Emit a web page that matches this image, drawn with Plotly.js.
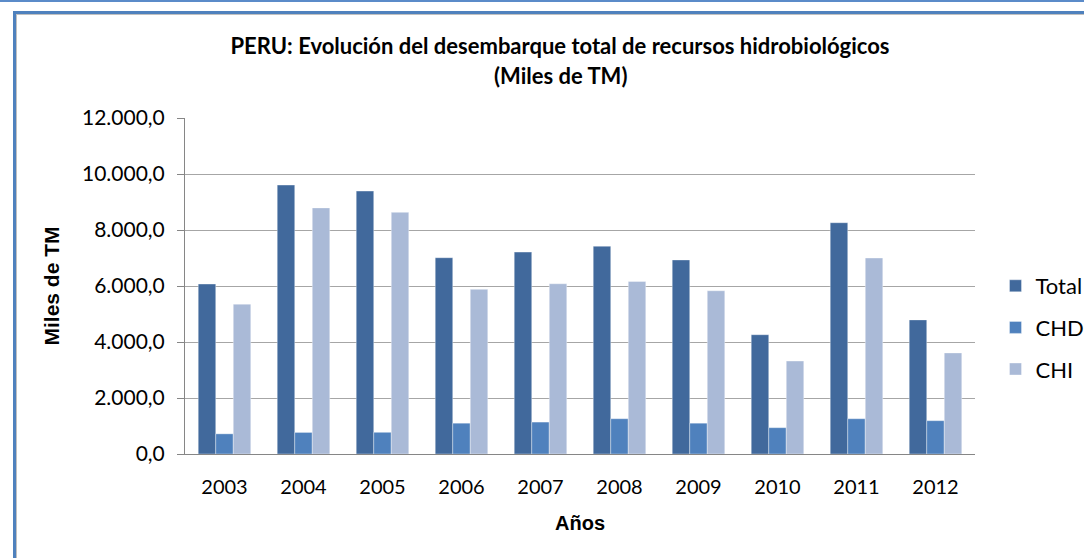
<!DOCTYPE html>
<html>
<head>
<meta charset="utf-8">
<script src="https://cdn.plot.ly/plotly-3.0.1.min.js"></script>
<style>
  html, body { margin: 0; padding: 0; background: #ffffff; width: 1084px; height: 558px; overflow: hidden; }
  #topline { position: absolute; left: 0; top: 0; width: 1084px; height: 2px; background: #5B8BC9; }
  #frame { position: absolute; left: 13px; top: 11px; width: 1071px; height: 547px; box-sizing: border-box;
           border-top: 3px solid #4F81BD; border-left: 3px solid #4F81BD; box-shadow: inset 1px 1px 0 #C0C0C0; }
  #chart { position: absolute; left: 16px; top: 14px; width: 1068px; height: 544px; }
</style>
</head>
<body>
<div id="topline"></div>
<div id="frame"></div>
<div id="chart"></div>
<script>
const years = ['2003','2004','2005','2006','2007','2008','2009','2010','2011','2012'];
const total = [6070, 9605, 9390, 7010, 7210, 7420, 6930, 4260, 8260, 4790];
const chd   = [720, 770, 775, 1100, 1140, 1260, 1100, 940, 1260, 1190];
const chi   = [5350, 8790, 8630, 5880, 6080, 6160, 5830, 3320, 7000, 3610];
const seriesNames = ['Total', 'CHD', 'CHI'];
const yTicks = [0, 2000, 4000, 6000, 8000, 10000, 12000];

const colors = ['#41699C', '#4F81BD', '#AABAD7'];

const traces = [total, chd, chi].map((vals, i) => ({
  type: 'bar',
  name: seriesNames[i],
  x: years,
  y: vals,
  legendgroup: 'g' + i,
  marker: {color: colors[i], line: {width: 0.6, color: 'rgba(255,255,255,0.6)'}},
  hoverinfo: 'x+y+name'
}));

const layout = {
  width: 1068,
  height: 544,
  paper_bgcolor: 'rgba(0,0,0,0)',
  plot_bgcolor: '#ffffff',
  separators: ',.',
  margin: {l: 169, r: 109, t: 104, b: 104, pad: 0},
  barmode: 'group',
  bargap: 0.335,
  bargroupgap: 0,
  title: {
    text: 'PERU: Evolución del desembarque total de recursos hidrobiológicos',
    font: {family: 'Lato, Carlito, sans-serif', size: 22, weight: 'bold', color: '#000000'},
    xref: 'container', x: 544 / 1068, xanchor: 'center',
    yref: 'container', y: 1 - 32 / 544, yanchor: 'middle'
  },
  annotations: [{
    text: '(Miles de TM)',
    xref: 'paper', x: (544 - 169) / 790, xanchor: 'center',
    yref: 'paper', y: 1 + (104 - 61) / 336, yanchor: 'middle',
    showarrow: false,
    font: {family: 'Lato, Carlito, sans-serif', size: 22, weight: 'bold', color: '#000000'}
  }],
  xaxis: {
    type: 'category',
    showline: true, linecolor: '#868686', linewidth: 1,
    ticks: '', showgrid: false,
    tickfont: {family: 'Lato, Carlito, sans-serif', size: 20, color: '#000000'},
    ticklabelstandoff: 15,
    title: {text: 'Años', font: {family: 'Liberation Sans, Arial, sans-serif', size: 20, weight: 'bold', color: '#000000'}, standoff: 18}
  },
  yaxis: {
    range: [0, 12000],
    tickvals: yTicks,
    tickformat: ',.1f',
    showline: true, linecolor: '#868686', linewidth: 1,
    ticks: 'outside', ticklen: 7, tickcolor: '#868686',
    showgrid: true, gridcolor: '#A6A6A6', gridwidth: 1,
    zeroline: false,
    tickfont: {family: 'Lato, Carlito, sans-serif', size: 21, color: '#000000'},
    ticklabelstandoff: 8,
    title: {text: 'Miles de TM', font: {family: 'Liberation Sans, Arial, sans-serif', size: 21, weight: 'bold', color: '#000000'}, standoff: 16}
  },
  legend: {
    xref: 'container', x: 979.5 / 1068, xanchor: 'left',
    yref: 'container', y: 1 - 313.5 / 544, yanchor: 'middle',
    font: {family: 'Lato, Carlito, sans-serif', size: 22, color: '#000000'},
    tracegroupgap: 10,
    bgcolor: 'rgba(0,0,0,0)'
  },
  showlegend: true
};

Plotly.newPlot('chart', traces, layout, {displayModeBar: false, staticPlot: true});
</script>
</body>
</html>
